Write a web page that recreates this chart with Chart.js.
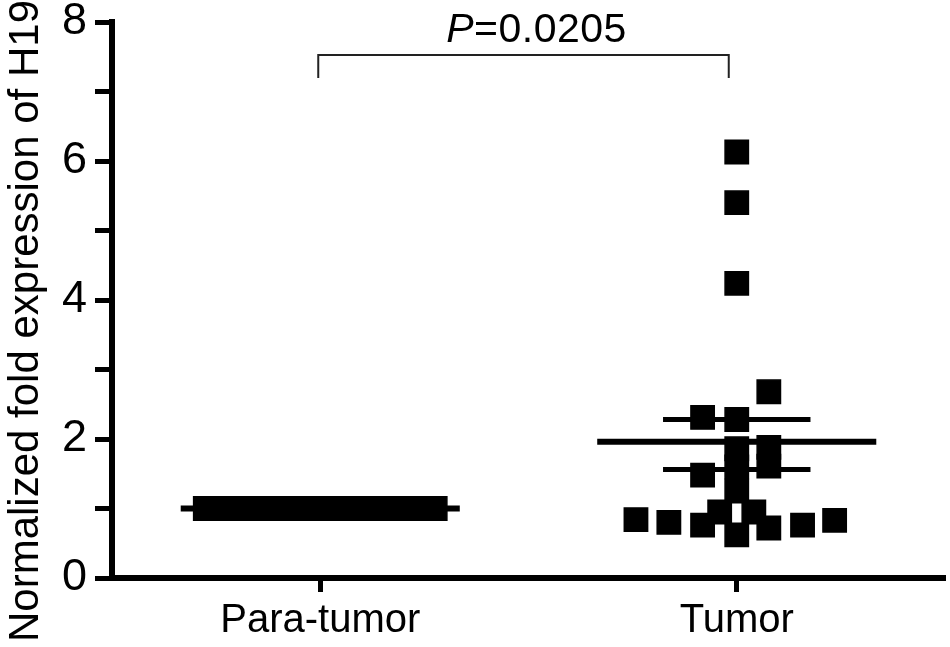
<!DOCTYPE html>
<html><head><meta charset="utf-8">
<script src="https://cdn.jsdelivr.net/npm/chart.js@4.4.1/dist/chart.umd.min.js"></script>
<style>html,body{margin:0;padding:0;background:#fff}canvas{display:block}</style>
</head><body>
<canvas id="c" width="950" height="647"></canvas>
<script>
// ---- data ----
const categories = ['Para-tumor', 'Tumor'];
const yAxisTitle = 'Normalized fold expression of H19';
const yTickLabels = ['0', '2', '4', '6', '8'];

const paraValues = [1.0,1.0,1.0,1.0,1.0,1.0,1.0,1.0,1.0,1.0,1.0,1.0,1.0,1.0,1.0,1.0,1.0,1.0,1.0,1.0,1.0];
const paraJitter = [-0.276,-0.237,-0.197,-0.156,-0.115,-0.094,-0.072,-0.048,-0.024,0,0.024,0.048,0.072,0.101,0.125,0.151,0.175,0.201,0.223,0.247,0.276];

const tumorValues = [6.13,5.40,4.24,2.68,2.31,2.28,1.86,1.60,1.88,1.61,1.48,1.25,0.95,0.95,0.84,0.80,0.76,0.62,0.72,0.76,0.83];
const tumorJitter = [0,0,0,0.077,-0.082,0,0,0,0.077,0.077,-0.082,0,-0.041,0.041,-0.242,-0.163,-0.082,0,0.077,0.158,0.235];

const groupMeans = [1.0, 1.96];
const groupSemUpper = [1.0, 2.28];
const groupSemLower = [1.0, 1.56];

const pLabelItalic = 'P';
const pLabelRest = '=0.0205';

// ---- styling ----
const FONT = '"Liberation Sans", Arial, Helvetica, sans-serif';
const MEAN_HALF = 0.335, SEM_HALF = 0.177;

function points(vals, jit, g) { return vals.map((v, i) => ({ x: g + jit[i], y: v })); }
function hline(g, y, half) { return [{ x: g - half, y }, { x: g + half, y }]; }

const pointStyle = {
  type: 'scatter', pointStyle: 'rect', pointRadius: 16.5, pointHoverRadius: 16.5,
  backgroundColor: '#000', borderColor: '#000', borderWidth: 1.5, showLine: false, clip: false
};
const lineStyle = {
  type: 'line', showLine: true, pointRadius: 0, borderColor: '#000', borderWidth: 6,
  fill: false, borderCapStyle: 'butt', clip: false
};

const datasets = [
  Object.assign({ label: categories[0], data: points(paraValues, paraJitter, 1) }, pointStyle),
  Object.assign({ label: categories[1], data: points(tumorValues, tumorJitter, 2) }, pointStyle),
];
categories.forEach((c, i) => {
  const g = i + 1;
  datasets.push(Object.assign({ label: c + ' mean', data: hline(g, groupMeans[i], MEAN_HALF) }, lineStyle));
  datasets.push(Object.assign({ label: c + ' SEM+', data: hline(g, groupSemUpper[i], SEM_HALF) }, lineStyle, { borderWidth: 5 }));
  datasets.push(Object.assign({ label: c + ' SEM-', data: hline(g, groupSemLower[i], SEM_HALF) }, lineStyle, { borderWidth: 5 }));
});

const annot = {
  id: 'annot',
  afterDraw(chart) {
    const ctx = chart.ctx;
    const xs = chart.scales.x;
    // y-axis title
    ctx.save();
    ctx.translate(38, 321);
    ctx.rotate(-Math.PI / 2);
    ctx.font = '42px ' + FONT;
    ctx.fillStyle = '#000';
    ctx.textAlign = 'center';
    ctx.textBaseline = 'alphabetic';
    ctx.fillText(yAxisTitle, 0, 0);
    ctx.restore();

    // significance bracket
    const x1 = xs.getPixelForValue(1) - 2;
    const x2 = xs.getPixelForValue(2) - 8;
    const yTop = 55, yBot = 78;
    ctx.save();
    ctx.strokeStyle = '#222';
    ctx.lineWidth = 2;
    ctx.beginPath();
    ctx.moveTo(x1, yBot); ctx.lineTo(x1, yTop); ctx.lineTo(x2, yTop); ctx.lineTo(x2, yBot);
    ctx.stroke();

    // P value text
    ctx.fillStyle = '#000';
    ctx.textBaseline = 'alphabetic';
    ctx.textAlign = 'left';
    try { ctx.letterSpacing = '0.5px'; } catch (e) {}
    const italicFont = 'italic 41px ' + FONT;
    const normalFont = '41px ' + FONT;
    ctx.font = italicFont; const w1 = ctx.measureText(pLabelItalic).width;
    ctx.font = normalFont; const w2 = ctx.measureText(pLabelRest).width;
    const cx = (x1 + x2) / 2 + 13;
    let sx = cx - (w1 + w2) / 2;
    ctx.font = italicFont; ctx.fillText(pLabelItalic, sx, 42);
    ctx.font = normalFont; ctx.fillText(pLabelRest, sx + w1, 42);
    ctx.restore();
  }
};

new Chart(document.getElementById('c'), {
  data: { datasets },
  options: {
    responsive: false, animation: false,
    layout: { autoPadding: false, padding: { top: 22, right: 5, left: 0, bottom: 0 } },
    plugins: { legend: { display: false }, tooltip: { enabled: false } },
    scales: {
      x: {
        type: 'linear', min: 0.5, max: 2.5,
        afterBuildTicks(scale) { scale.ticks = categories.map((c, i) => ({ value: i + 1 })); },
        afterFit(scale) { scale.height = 69; scale.paddingLeft = 0; scale.paddingRight = 0; },
        ticks: {
          autoSkip: false, maxRotation: 0, padding: 5, color: '#000',
          font: { family: FONT, size: 40 },
          callback: (v) => categories[Math.round(v) - 1] || ''
        },
        grid: { drawOnChartArea: false, drawTicks: true, tickLength: 14, tickWidth: 5, tickColor: '#000' },
        border: { display: true, color: '#000', width: 6 }
      },
      y: {
        type: 'linear', min: 0, max: 8,
        afterFit(scale) { scale.width = 112; scale.paddingTop = 0; scale.paddingBottom = 0; },
        ticks: {
          stepSize: 1, padding: 8, color: '#000',
          font: { family: FONT, size: 45 },
          callback: (v) => (v % 2 === 0 ? yTickLabels[v / 2] : '')
        },
        grid: { drawOnChartArea: false, drawTicks: true, tickLength: 17, tickWidth: 5, tickColor: '#000' },
        border: { display: true, color: '#000', width: 6 }
      }
    }
  },
  plugins: [annot]
});
</script>
</body></html>
